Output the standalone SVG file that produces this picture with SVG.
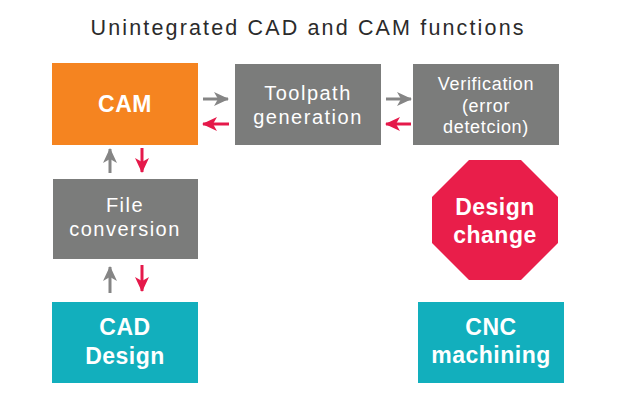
<svg xmlns="http://www.w3.org/2000/svg" width="618" height="400" viewBox="0 0 618 400">
<defs>
<style>
.t{font-family:"Liberation Sans",Arial,sans-serif;fill:#fff;text-anchor:middle}
.n{font-size:20px;letter-spacing:1.5px}
.v{font-size:18px;letter-spacing:0.7px}
.b{font-weight:bold;font-size:23px;letter-spacing:0.5px}
.g{fill:#7b7c7b}
.ga{stroke:#858585;stroke-width:3;fill:none}
.ra{stroke:#e5194a;stroke-width:3;fill:none}
</style>
<marker id="hg" viewBox="0 0 15 14" refX="14" refY="7" markerWidth="15" markerHeight="14" markerUnits="userSpaceOnUse" orient="auto">
<path d="M0,0 L15,7 L0,14 L4,7 Z" fill="#858585"/>
</marker>
<marker id="hr" viewBox="0 0 15 14" refX="14" refY="7" markerWidth="15" markerHeight="14" markerUnits="userSpaceOnUse" orient="auto">
<path d="M0,0 L15,7 L0,14 L4,7 Z" fill="#e5194a"/>
</marker>
</defs>
<rect width="618" height="400" fill="#fff"/>
<text x="307" y="35" textLength="433" lengthAdjust="spacing" style="font-family:'Liberation Sans',Arial,sans-serif;font-size:21.5px;fill:#2b2b2b;text-anchor:middle">Unintegrated CAD and CAM functions</text>
<g id="cam"><rect x="52" y="63" width="146" height="82" fill="#f58420"/><text class="t b" x="125" y="112">CAM</text></g>
<g id="toolpath"><rect class="g" x="235" y="64" width="146" height="81"/><text class="t n" x="308" y="100">Toolpath</text><text class="t n" x="308" y="124">generation</text></g>
<g id="verification"><rect class="g" x="413" y="64" width="146" height="81"/><text class="t v" x="486" y="90">Verification</text><text class="t v" x="486" y="112">(error</text><text class="t v" x="486" y="133">detetcion)</text></g>
<g id="file"><rect class="g" x="53" y="179" width="145" height="80"/><text class="t n" x="125" y="212">File</text><text class="t n" x="125" y="236">conversion</text></g>
<g id="cad"><rect x="52" y="302" width="146" height="81" fill="#12afbd"/><text class="t b" x="125" y="335">CAD</text><text class="t b" x="125" y="364">Design</text></g>
<g id="change"><polygon points="469,160 521,160 558,197 558,243 521,280 469,280 432,243 432,197" fill="#e91e4a"/><text class="t b" x="495" y="215">Design</text><text class="t b" x="495" y="243">change</text></g>
<g id="cnc"><rect x="418" y="302" width="146" height="81" fill="#12afbd"/><text class="t b" x="491" y="335">CNC</text><text class="t b" x="491" y="363">machining</text></g>
<g id="connectors">
<line class="ga" x1="203" y1="99" x2="228" y2="99" marker-end="url(#hg)"/>
<line class="ra" x1="229" y1="124" x2="203" y2="124" marker-end="url(#hr)"/>
<line class="ga" x1="386" y1="99" x2="411" y2="99" marker-end="url(#hg)"/>
<line class="ra" x1="411" y1="124" x2="386" y2="124" marker-end="url(#hr)"/>
<line class="ga" x1="110" y1="173" x2="110" y2="149" marker-end="url(#hg)"/>
<line class="ra" x1="142" y1="148" x2="142" y2="172" marker-end="url(#hr)"/>
<line class="ga" x1="110" y1="293" x2="110" y2="267" marker-end="url(#hg)"/>
<line class="ra" x1="142" y1="265" x2="142" y2="291" marker-end="url(#hr)"/>
</g>
</svg>
